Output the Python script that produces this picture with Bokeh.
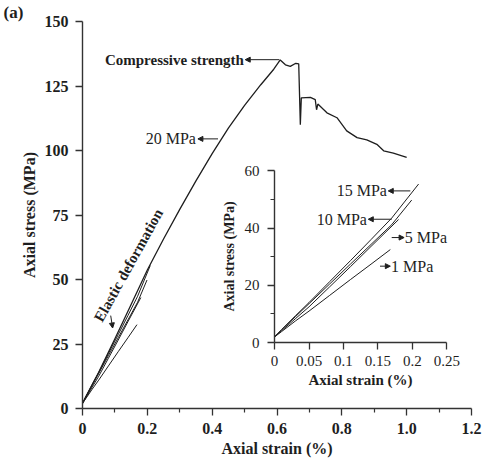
import math
from bokeh.plotting import figure
from bokeh.models import (Range1d, LinearAxis, FixedTicker, CustomJSTickFormatter,
                          Label, Arrow, NormalHead, Title)
from bokeh.embed import file_html
from bokeh.resources import INLINE

# ---------------- data ----------------
# 20 MPa full stress-strain curve (main plot)
strain_20 = [0, 0.01, 0.03, 0.05, 0.10, 0.15, 0.20, 0.25, 0.30, 0.35, 0.40, 0.45, 0.50,
             0.55, 0.59, 0.610, 0.626, 0.641, 0.658, 0.667, 0.672, 0.675, 0.703, 0.718,
             0.722, 0.726, 0.754, 0.785, 0.815, 0.847, 0.877, 0.908, 0.929, 0.959, 1.0]
stress_20 = [2, 4.5, 9.3, 14, 27, 40.3, 53.7, 65.7, 77.2, 88.2, 98.8, 108.7, 117.5,
             125.5, 131.5, 135.1, 133.2, 132.6, 133.8, 133.6, 110, 120.4, 120.6, 119.7,
             115.8, 118.0, 114.6, 112.7, 107.6, 105, 104.1, 102.4, 99.9, 99, 97.3]

# pre-peak curves at lower confining pressures (inset, also in main plot)
strain_15 = [0, 0.01, 0.03, 0.05, 0.08, 0.11, 0.14, 0.17, 0.209]
stress_15 = [2, 4.5, 9.3, 14, 21.3, 28.6, 36, 43.5, 55.4]
strain_10 = [0, 0.01, 0.03, 0.05, 0.08, 0.11, 0.14, 0.17, 0.199]
stress_10 = [2, 4.4, 9, 13.6, 20.5, 27.4, 34.3, 41.2, 49.8]
strain_5 = [0, 0.01, 0.03, 0.05, 0.08, 0.11, 0.14, 0.18]
stress_5 = [2, 4.1, 8.3, 12.5, 19.5, 26.5, 33.6, 43]
strain_1 = [0, 0.01, 0.03, 0.05, 0.08, 0.11, 0.14, 0.168]
stress_1 = [2, 3.8, 7.5, 11, 16.5, 22, 27.4, 32.5]

main_x_ticks = [0, 0.2, 0.4, 0.6, 0.8, 1.0, 1.2]
main_x_minor = [0.1, 0.3, 0.5, 0.7, 0.9, 1.1]
main_y_ticks = [0, 25, 50, 75, 100, 125, 150]
inset_x_ticks = [0, 0.05, 0.1, 0.15, 0.2, 0.25]
inset_y_ticks = [0, 20, 40, 60]
inset_y_minor = [10, 30, 50]

# ---------------- style ----------------
FONT = "Liberation Serif"
INK = "#1e1e1e"
AX = "#333333"

p = figure(width=484, height=459, x_range=Range1d(0, 1.2), y_range=Range1d(0, 150),
           x_axis_type=None, y_axis_type=None, output_backend="svg",
           toolbar_location=None, min_border_left=82, min_border_right=13,
           min_border_top=19, min_border_bottom=51, outline_line_color=None)
p.background_fill_color = "white"

# panel tag as a left-aligned title shifted over the y-axis area
p.title = Title(text="(a)", align="left", offset=-79, standoff=0,
                text_font=FONT, text_font_size="17px", text_font_style="bold",
                text_color=INK, vertical_align="bottom")

# inset coordinate system (extra ranges)
p.extra_x_ranges = {"ix": Range1d(-0.2788, 0.2858)}
p.extra_y_ranges = {"iy": Range1d(-23.04, 112.2)}


def style_axis(ax, tick_size, label_size, tick_bold, label_bold=True):
    ax.axis_line_color = AX
    ax.axis_line_width = 1.4
    ax.major_tick_line_color = AX
    ax.major_tick_line_width = 1.3
    ax.minor_tick_line_color = AX
    ax.minor_tick_line_width = 1.2
    ax.major_tick_in = 0
    ax.major_tick_out = 7
    ax.minor_tick_in = 0
    ax.minor_tick_out = 4
    ax.major_label_text_font = FONT
    ax.major_label_text_font_size = tick_size
    ax.major_label_text_font_style = "bold" if tick_bold else "normal"
    ax.major_label_text_color = INK
    ax.axis_label_text_font = FONT
    ax.axis_label_text_font_size = label_size
    ax.axis_label_text_font_style = "bold" if label_bold else "normal"
    ax.axis_label_text_color = INK


# main axes
xax = LinearAxis(ticker=FixedTicker(ticks=main_x_ticks, minor_ticks=main_x_minor),
                 formatter=CustomJSTickFormatter(code="return tick == 0 ? '0' : tick.toFixed(1);"),
                 axis_label="Axial strain (%)")
style_axis(xax, "16px", "16px", True)
xax.major_label_standoff = 7
xax.axis_label_standoff = 3
p.add_layout(xax, "below")

yax = LinearAxis(ticker=FixedTicker(ticks=main_y_ticks), axis_label="Axial stress (MPa)")
style_axis(yax, "16px", "16px", True)
yax.major_label_standoff = 7
yax.axis_label_standoff = 4
p.add_layout(yax, "left")

# inset axes
ixax = LinearAxis(x_range_name="ix", y_range_name="iy", fixed_location=0, bounds=(0, 0.25),
                  ticker=FixedTicker(ticks=inset_x_ticks),
                  formatter=CustomJSTickFormatter(code="return String(parseFloat(tick.toFixed(2)));"),
                  axis_label="Axial strain (%)")
style_axis(ixax, "15px", "15px", False)
ixax.major_label_standoff = 6
ixax.axis_label_standoff = 3
p.add_layout(ixax, "below")

iyax = LinearAxis(x_range_name="ix", y_range_name="iy", fixed_location=0, bounds=(0, 60),
                  ticker=FixedTicker(ticks=inset_y_ticks, minor_ticks=inset_y_minor),
                  axis_label="Axial stress (MPa)")
style_axis(iyax, "15px", "14px", False)
iyax.major_label_standoff = 8
iyax.axis_label_standoff = 5
p.add_layout(iyax, "left")

# main plot curves
LW = 1.3
p.line(strain_20, stress_20, line_color=INK, line_width=LW)
for xs, ys in [(strain_15, stress_15), (strain_10, stress_10), (strain_5, stress_5), (strain_1, stress_1)]:
    p.line(xs, ys, line_color=INK, line_width=1.0)
    p.line(xs, ys, line_color=INK, line_width=1.0, x_range_name="ix", y_range_name="iy")


def lab(text, x, y, align, bold=False, size="16px", rng=None, angle=0.0):
    kw = {}
    if rng:
        kw = dict(x_range_name="ix", y_range_name="iy")
    p.add_layout(Label(x=x, y=y, text=text, text_font=FONT, text_font_size=size,
                       text_font_style="bold" if bold else "normal", text_color=INK,
                       text_align=align, text_baseline="middle", angle=angle, **kw))


def arr(x0, y0, x1, y1, rng=None):
    kw = {}
    if rng:
        kw = dict(x_range_name="ix", y_range_name="iy")
    p.add_layout(Arrow(x_start=x0, y_start=y0, x_end=x1, y_end=y1, line_color=INK,
                       line_width=1.0,
                       end=NormalHead(size=5, fill_color=INK, line_color=INK, line_width=1),
                       **kw))


# annotations, main
lab("Compressive strength", 0.498, 135.2, "right", bold=True, size="15px")
arr(0.607, 135.2, 0.502, 135.2)
lab("20 MPa", 0.35, 104.5, "right")
arr(0.418, 104.5, 0.356, 104.5)
lab("Elastic deformation", 0.142, 55.5, "center", bold=True, size="15px",
    angle=math.radians(61))
arr(0.087, 36.0, 0.093, 31.2)

# annotations, inset
lab("15 MPa", 0.163, 53.0, "right", rng=True)
arr(0.197, 53.0, 0.165, 53.0, rng=True)
lab("10 MPa", 0.134, 43.1, "right", rng=True)
arr(0.170, 43.1, 0.136, 43.1, rng=True)
lab("5 MPa", 0.189, 36.7, "left", rng=True)
arr(0.170, 36.7, 0.188, 36.7, rng=True)
lab("1 MPa", 0.169, 26.7, "left", rng=True)
arr(0.153, 26.7, 0.168, 26.7, rng=True)

open("out.html", "w").write(file_html(p, INLINE))
